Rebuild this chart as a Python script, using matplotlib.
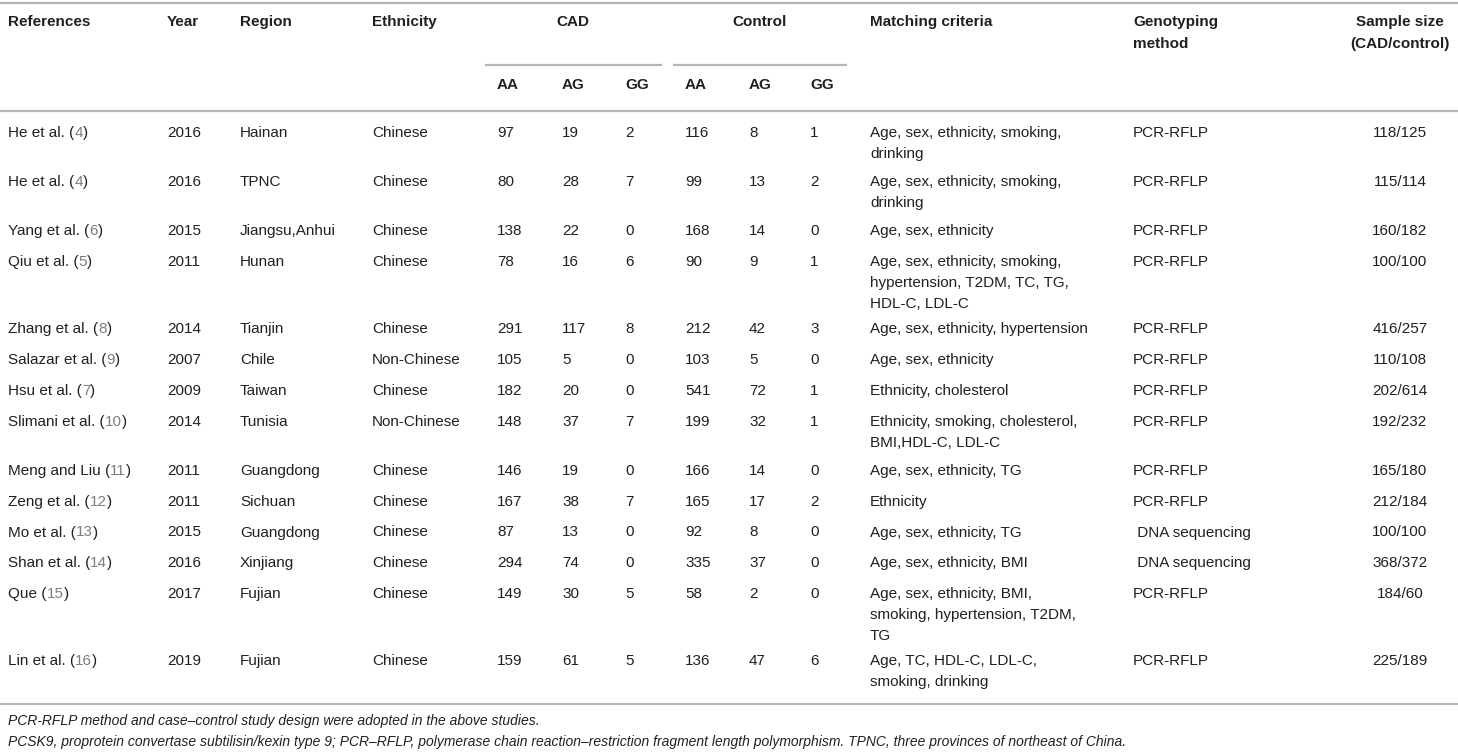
import matplotlib
matplotlib.use("Agg")
import matplotlib.pyplot as plt

# table contents
refs = ["He et al.", "He et al.", "Yang et al.", "Qiu et al.", "Zhang et al.",
        "Salazar et al.", "Hsu et al.", "Slimani et al.", "Meng and Liu",
        "Zeng et al.", "Mo et al.", "Shan et al.", "Que", "Lin et al."]
ref_nums = [4, 4, 6, 5, 8, 9, 7, 10, 11, 12, 13, 14, 15, 16]
years = [2016, 2016, 2015, 2011, 2014, 2007, 2009, 2014, 2011, 2011, 2015, 2016, 2017, 2019]
regions = ["Hainan", "TPNC", "Jiangsu,Anhui", "Hunan", "Tianjin", "Chile", "Taiwan",
           "Tunisia", "Guangdong", "Sichuan", "Guangdong", "Xinjiang", "Fujian", "Fujian"]
ethnicities = ["Chinese", "Chinese", "Chinese", "Chinese", "Chinese", "Non-Chinese",
               "Chinese", "Non-Chinese", "Chinese", "Chinese", "Chinese", "Chinese",
               "Chinese", "Chinese"]
cad_aa = [97, 80, 138, 78, 291, 105, 182, 148, 146, 167, 87, 294, 149, 159]
cad_ag = [19, 28, 22, 16, 117, 5, 20, 37, 19, 38, 13, 74, 30, 61]
cad_gg = [2, 7, 0, 6, 8, 0, 0, 7, 0, 7, 0, 0, 5, 5]
ctl_aa = [116, 99, 168, 90, 212, 103, 541, 199, 166, 165, 92, 335, 58, 136]
ctl_ag = [8, 13, 14, 9, 42, 5, 72, 32, 14, 17, 8, 37, 2, 47]
ctl_gg = [1, 2, 0, 1, 3, 0, 1, 1, 0, 2, 0, 0, 0, 6]
matching = [
    "Age, sex, ethnicity, smoking,\ndrinking",
    "Age, sex, ethnicity, smoking,\ndrinking",
    "Age, sex, ethnicity",
    "Age, sex, ethnicity, smoking,\nhypertension, T2DM, TC, TG,\nHDL-C, LDL-C",
    "Age, sex, ethnicity, hypertension",
    "Age, sex, ethnicity",
    "Ethnicity, cholesterol",
    "Ethnicity, smoking, cholesterol,\nBMI,HDL-C, LDL-C",
    "Age, sex, ethnicity, TG",
    "Ethnicity",
    "Age, sex, ethnicity, TG",
    "Age, sex, ethnicity, BMI",
    "Age, sex, ethnicity, BMI,\nsmoking, hypertension, T2DM,\nTG",
    "Age, TC, HDL-C, LDL-C,\nsmoking, drinking",
]
methods = ["PCR-RFLP"] * 10 + [" DNA sequencing", " DNA sequencing", "PCR-RFLP", "PCR-RFLP"]
sample_sizes = ["118/125", "115/114", "160/182", "100/100", "416/257", "110/108", "202/614",
                "192/232", "165/180", "212/184", "100/100", "368/372", "184/60", "225/189"]
footnotes = [
    "PCR-RFLP method and case\u2013control study design were adopted in the above studies.",
    "PCSK9, proprotein convertase subtilisin/kexin type 9; PCR\u2013RFLP, polymerase chain "
    "reaction\u2013restriction fragment length polymorphism. TPNC, three provinces of northeast of China.",
]

plt.rcParams['font.family'] = ['Liberation Sans', 'DejaVu Sans']
TXT = '#231f20'
REFC = '#7d7d7d'
LINE = '#b5b5b5'
FS = 11

fig = plt.figure(figsize=(14.58, 7.52), dpi=100)
ax = fig.add_axes([0, 0, 1, 1])
ax.set_xlim(0, 1458)
ax.set_ylim(752, 0)
ax.axis('off')
renderer = fig.canvas.get_renderer()

# column x positions (px)
x_ref, x_year, x_reg, x_eth = 8, 167, 240, 372
x_vals = [497, 562, 625, 685, 749, 810]
x_match, x_meth, x_size = 870, 1133, 1400

# rules
for y in (3, 111, 704):
    ax.plot([0, 1458], [y, y], color=LINE, lw=1.6, solid_capstyle='butt')
ax.plot([485, 662], [65, 65], color=LINE, lw=1.6, solid_capstyle='butt')
ax.plot([673, 847], [65, 65], color=LINE, lw=1.6, solid_capstyle='butt')

# header
hd = dict(fontsize=FS, fontweight='bold', color=TXT, va='center')
ax.text(x_ref, 22, "References", **hd)
ax.text(x_year, 22, "Year", **hd)
ax.text(x_reg, 22, "Region", **hd)
ax.text(x_eth, 22, "Ethnicity", **hd)
ax.text(573, 22, "CAD", ha='center', **hd)
ax.text(760, 22, "Control", ha='center', **hd)
ax.text(x_match, 22, "Matching criteria", **hd)
ax.text(x_meth, 22, "Genotyping", **hd)
ax.text(x_meth, 44, "method", **hd)
ax.text(x_size, 22, "Sample size", ha='center', **hd)
ax.text(x_size, 44, "(CAD/control)", ha='center', **hd)
for x, lab in zip(x_vals, ["AA", "AG", "GG", "AA", "AG", "GG"]):
    ax.text(x, 85, lab, **hd)

# body
bd = dict(fontsize=FS, color=TXT, va='center')
line_h = 21
y = 133
for i in range(len(refs)):
    t = ax.text(x_ref, y, refs[i] + " (", **bd)
    x1 = t.get_window_extent(renderer).x1
    t = ax.text(x1, y, str(ref_nums[i]), fontsize=FS, color=REFC, va='center')
    x1 = t.get_window_extent(renderer).x1
    ax.text(x1, y, ")", **bd)
    ax.text(x_year, y, str(years[i]), **bd)
    ax.text(x_reg, y, regions[i], **bd)
    ax.text(x_eth, y, ethnicities[i], **bd)
    vals = [cad_aa[i], cad_ag[i], cad_gg[i], ctl_aa[i], ctl_ag[i], ctl_gg[i]]
    for x, v in zip(x_vals, vals):
        ax.text(x, y, str(v), **bd)
    lines = matching[i].split("\n")
    for k, ln in enumerate(lines):
        ax.text(x_match, y + k * line_h, ln, **bd)
    ax.text(x_meth, y, methods[i], **bd)
    ax.text(x_size, y, sample_sizes[i], ha='center', **bd)
    y += 30.8 + 18.3 * (len(lines) - 1)

# footnotes
ax.text(x_ref, 721, footnotes[0], fontsize=10, style='italic', color=TXT, va='center')
ax.text(x_ref, 742, footnotes[1], fontsize=10, style='italic', color=TXT, va='center')

fig.savefig("out.png", dpi=100)
